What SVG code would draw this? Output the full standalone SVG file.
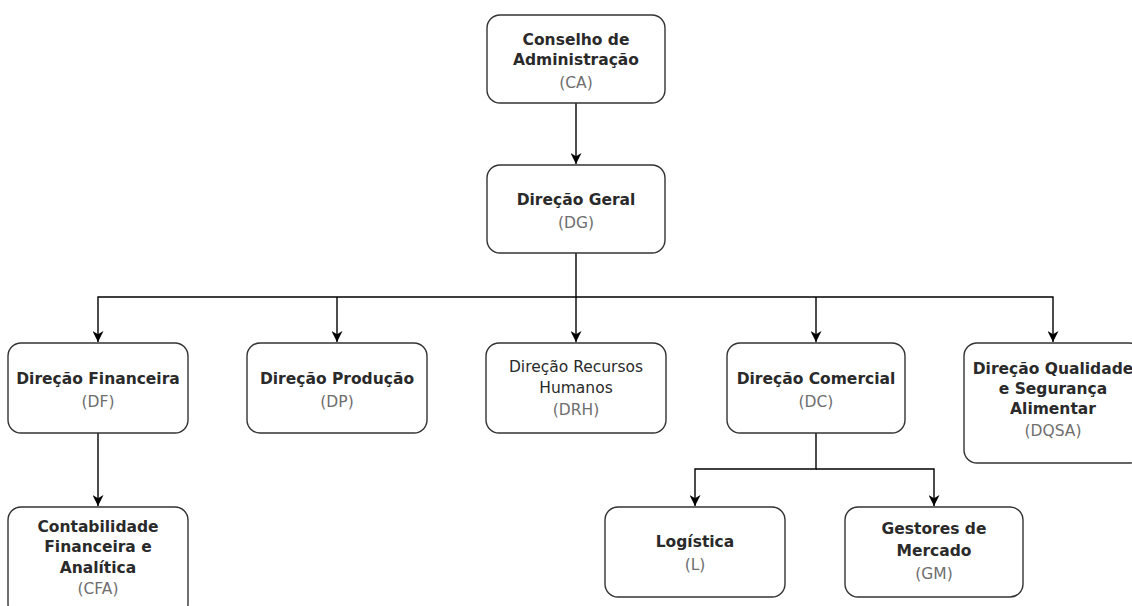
<svg xmlns="http://www.w3.org/2000/svg" width="1132" height="606" viewBox="0 0 1132 606">
<style>
.box{fill:#fff;stroke:#333;stroke-width:1.4}
.t{font-family:"DejaVu Sans",Verdana,sans-serif;font-size:15.5px;text-anchor:middle;fill:#2a2a2a}
.b{font-weight:bold}
.g{fill:#6e6e6e}
.c{fill:none;stroke:#000;stroke-width:1.4}
</style>
<defs>
<marker id="ah" viewBox="0 0 10 10" refX="10" refY="5" markerWidth="11" markerHeight="11" markerUnits="userSpaceOnUse" orient="auto">
<path d="M0,0 L10,5 L0,10 L3,5 Z" fill="#000"/>
</marker>
</defs>
<rect width="1132" height="606" fill="#fff"/>
<g id="connectors">
<path class="c" d="M576,103 V164" marker-end="url(#ah)"/>
<path class="c" d="M576,253 V297 H98 V342" marker-end="url(#ah)"/>
<path class="c" d="M337,297 V342" marker-end="url(#ah)"/>
<path class="c" d="M576,297 V342" marker-end="url(#ah)"/>
<path class="c" d="M576,297 H1053 V342" marker-end="url(#ah)"/>
<path class="c" d="M816,297 V342" marker-end="url(#ah)"/>
<path class="c" d="M98,433 V506" marker-end="url(#ah)"/>
<path class="c" d="M816,433 V469 H695 V506" marker-end="url(#ah)"/>
<path class="c" d="M816,469 H934 V506" marker-end="url(#ah)"/>
</g>
<g id="CA">
<rect class="box" x="487" y="15" width="178" height="88" rx="13"/>
<text class="t b" x="576" y="45">Conselho de</text>
<text class="t b" x="576" y="65">Administração</text>
<text class="t g" x="576" y="88">(CA)</text>
</g>
<g id="DG">
<rect class="box" x="487" y="165" width="178" height="88" rx="13"/>
<text class="t b" x="576" y="205">Direção Geral</text>
<text class="t g" x="576" y="228">(DG)</text>
</g>
<g id="DF">
<rect class="box" x="8" y="343" width="180" height="90" rx="13"/>
<text class="t b" x="98" y="384">Direção Financeira</text>
<text class="t g" x="98" y="407">(DF)</text>
</g>
<g id="DP">
<rect class="box" x="247" y="343" width="180" height="90" rx="13"/>
<text class="t b" x="337" y="384">Direção Produção</text>
<text class="t g" x="337" y="407">(DP)</text>
</g>
<g id="DRH">
<rect class="box" x="486" y="343" width="180" height="90" rx="13"/>
<text class="t" x="576" y="372">Direção Recursos</text>
<text class="t" x="576" y="393">Humanos</text>
<text class="t g" x="576" y="415">(DRH)</text>
</g>
<g id="DC">
<rect class="box" x="727" y="343" width="178" height="90" rx="13"/>
<text class="t b" x="816" y="384">Direção Comercial</text>
<text class="t g" x="816" y="407">(DC)</text>
</g>
<g id="DQSA">
<rect class="box" x="964" y="343" width="178" height="120" rx="13"/>
<text class="t b" x="1053" y="374">Direção Qualidade</text>
<text class="t b" x="1053" y="394">e Segurança</text>
<text class="t b" x="1053" y="414">Alimentar</text>
<text class="t g" x="1053" y="436">(DQSA)</text>
</g>
<g id="CFA">
<rect class="box" x="8" y="507" width="180" height="110" rx="13"/>
<text class="t b" x="98" y="532">Contabilidade</text>
<text class="t b" x="98" y="552">Financeira e</text>
<text class="t b" x="98" y="573">Analítica</text>
<text class="t g" x="98" y="594">(CFA)</text>
</g>
<g id="L">
<rect class="box" x="605" y="507" width="180" height="90" rx="13"/>
<text class="t b" x="695" y="547">Logística</text>
<text class="t g" x="695" y="570">(L)</text>
</g>
<g id="GM">
<rect class="box" x="845" y="507" width="178" height="90" rx="13"/>
<text class="t b" x="934" y="534">Gestores de</text>
<text class="t b" x="934" y="556">Mercado</text>
<text class="t g" x="934" y="579">(GM)</text>
</g>
</svg>
